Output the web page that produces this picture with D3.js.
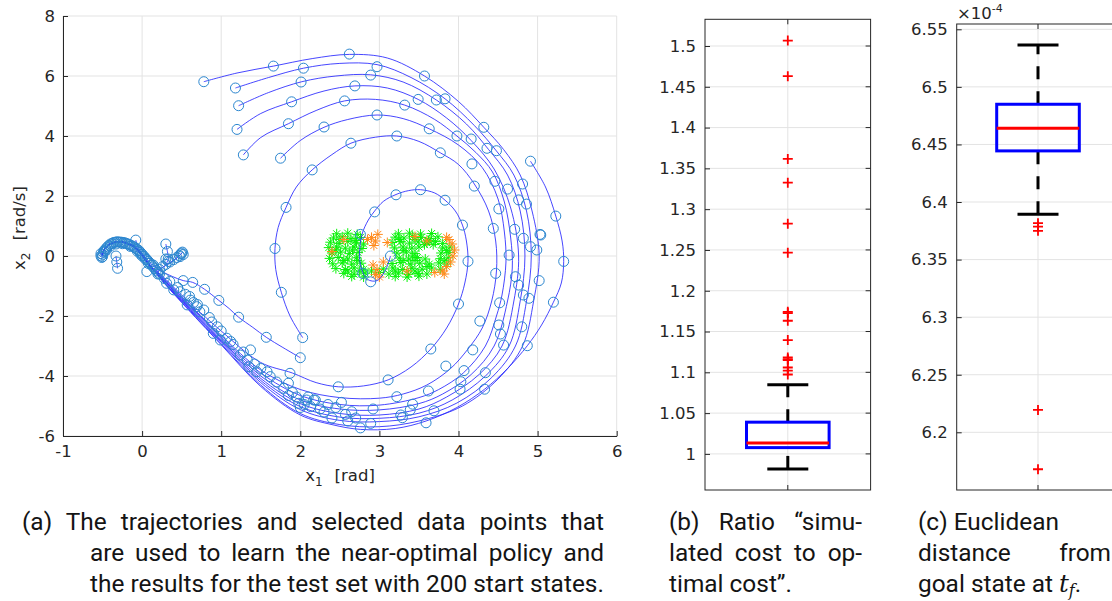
<!DOCTYPE html>
<html>
<head>
<meta charset="utf-8">
<script src="https://cdn.jsdelivr.net/npm/d3@7"></script>
<style>
  body { margin: 0; background: #fff; }
  svg { display: block; }
  .tick text, .lbl { font-family: "DejaVu Sans", sans-serif; font-size: 16.5px; fill: #262626; }
  .cap { font-family: Roboto, sans-serif; font-size: 25px; fill: #141414; }
</style>
</head>
<body>
<svg id="fig" width="1112" height="601"></svg>
<script>
// ---------- phase-plane trajectories (x1 = angle [rad], x2 = angular velocity [rad/s]) ----------
const trajA = [[0.78,5.81],[1.2,6.1],[1.66,6.33],[2.15,6.58],[2.62,6.72],[3.1,6.6],[3.57,6.0],[4.0,5.15],[4.32,4.29],[4.57,3.55],[4.78,2.7],[4.93,1.5],[5.02,0],[4.95,-1.5],[4.81,-3],[4.5,-4.1],[4.05,-5.0],[3.5,-5.5],[3.0,-5.69],[2.5,-5.62],[2.0,-5.25],[1.5,-4.3],[1.0,-2.93],[0.5,-1.53],[0.25,-0.8],[0.14,-0.45],[0.05,-0.14],[-0.04,0.15],[-0.14,0.36],[-0.27,0.46],[-0.39,0.42],[-0.47,0.25],[-0.51,0.02]];
const trajB = [[1.18,5.6],[1.6,5.95],[2.04,6.26],[2.5,6.42],[2.97,6.38],[3.4,5.95],[3.83,5.24],[4.2,4.35],[4.48,3.5],[4.7,2.7],[4.86,1.5],[4.92,0],[4.86,-1.5],[4.72,-3],[4.42,-4.05],[3.98,-4.9],[3.5,-5.36],[3.0,-5.52],[2.5,-5.48],[2.0,-5.12],[1.5,-4.22],[1.0,-2.88],[0.5,-1.5],[0.25,-0.78],[0.2,-0.55],[0.26,-0.38],[0.38,-0.18],[0.47,0.0],[0.51,0.12]];
const trajC = [[1.22,5.01],[1.6,5.45],[2.02,5.81],[2.45,6.0],[2.89,6.04],[3.3,5.8],[3.72,5.2],[4.1,4.4],[4.38,3.55],[4.62,2.7],[4.78,1.5],[4.84,0],[4.78,-1.5],[4.64,-3],[4.34,-4.0],[3.92,-4.8],[3.5,-5.24],[3.0,-5.41],[2.5,-5.37],[2.0,-5.02],[1.5,-4.15],[1.0,-2.84],[0.5,-1.48],[0.25,-0.76],[0.13,-0.44],[0.04,-0.12],[-0.05,0.17],[-0.15,0.37],[-0.28,0.47],[-0.4,0.41],[-0.48,0.22],[-0.5,-0.02]];
const trajD = [[1.20,4.22],[1.5,4.75],[1.89,5.14],[2.3,5.5],[2.69,5.67],[3.1,5.6],[3.49,5.22],[3.85,4.6],[4.16,3.85],[4.45,2.9],[4.66,1.6],[4.76,0],[4.7,-1.5],[4.55,-3],[4.26,-3.95],[3.85,-4.7],[3.5,-5.1],[3.0,-5.3],[2.5,-5.25],[2.0,-4.92],[1.5,-4.08],[1.0,-2.8],[0.5,-1.45],[0.25,-0.74],[0.12,-0.43],[0.03,-0.1],[-0.06,0.18],[-0.16,0.38],[-0.29,0.46],[-0.41,0.39],[-0.48,0.2],[-0.52,0.0]];
const trajE = [[1.28,3.37],[1.5,3.95],[1.85,4.41],[2.2,4.85],[2.56,5.17],[2.95,5.22],[3.32,5.03],[3.7,4.55],[3.98,4.0],[4.22,3.45],[4.43,2.8],[4.58,1.8],[4.66,0.6],[4.68,-0.4],[4.62,-1.5],[4.45,-3],[4.16,-3.95],[3.8,-4.6],[3.5,-4.92],[3.0,-5.13],[2.5,-5.1],[2.0,-4.8],[1.5,-4.0],[1.0,-2.75],[0.5,-1.42],[0.25,-0.72],[0.13,-0.4],[0.05,-0.1],[-0.04,0.2],[-0.13,0.38],[-0.26,0.48],[-0.38,0.44],[-0.46,0.28],[-0.5,0.05]];
const trajF = [[1.75,3.26],[2.0,3.85],[2.30,4.29],[2.6,4.55],[2.97,4.70],[3.3,4.58],[3.63,4.24],[4.0,3.7],[4.3,2.95],[4.5,1.9],[4.58,0.8],[4.6,-0.2],[4.55,-1.3],[4.48,-2.0],[4.34,-3],[4.06,-3.9],[3.75,-4.45],[3.5,-4.72],[3.0,-4.97],[2.5,-4.95],[2.0,-4.65],[1.5,-3.9],[1.0,-2.7],[0.5,-1.38],[0.25,-0.7],[0.19,-0.52],[0.27,-0.36],[0.37,-0.2],[0.45,-0.03],[0.5,0.09]];
const trajG = [[2.03,-2.72],[1.87,-2.0],[1.76,-1.21],[1.69,-0.45],[1.68,0.25],[1.72,0.95],[1.82,1.62],[1.95,2.3],[2.15,2.87],[2.4,3.38],[2.64,3.76],[2.95,3.96],[3.22,4.0],[3.5,3.82],[3.77,3.44],[4.0,3.05],[4.2,2.4],[4.38,1.5],[4.47,0.5],[4.48,-0.5],[4.42,-1.5],[4.3,-2.4],[4.12,-3.1],[3.9,-3.75],[3.6,-4.3],[3.3,-4.6],[3.0,-4.74],[2.5,-4.72],[2.0,-4.45],[1.5,-3.8],[1.0,-2.65],[0.5,-1.35],[0.25,-0.68],[0.11,-0.38],[0.02,-0.08],[-0.07,0.2],[-0.17,0.39],[-0.3,0.47],[-0.42,0.38],[-0.49,0.18],[-0.51,-0.04]];
const trajH = [[4.91,3.16],[5.1,2.3],[5.23,1.33],[5.31,0.5],[5.33,-0.18],[5.3,-0.9],[5.2,-1.54],[5.05,-2.3],[4.87,-2.99],[4.62,-3.75],[4.33,-4.44],[3.98,-5.05],[3.59,-5.5],[3.2,-5.75],[2.76,-5.78],[2.4,-5.62],[2.0,-5.3],[1.5,-4.35],[1.0,-2.96],[0.5,-1.55],[0.25,-0.82],[0.14,-0.46],[0.05,-0.14],[-0.03,0.14],[-0.13,0.35],[-0.26,0.46],[-0.38,0.43],[-0.47,0.26],[-0.52,0.04]];
const trajI = [[3.14,0.0],[3.08,-0.45],[2.97,-0.82],[2.85,-0.78],[2.77,-0.4],[2.75,0.1],[2.78,0.72],[2.86,1.2],[2.94,1.5],[3.05,1.82],[3.21,2.05],[3.37,2.18],[3.52,2.21],[3.7,2.1],[3.83,1.86],[3.96,1.5],[4.05,1.03],[4.1,0.5],[4.12,-0.18],[4.08,-0.9],[4.0,-1.6],[3.85,-2.4],[3.65,-3.1],[3.4,-3.7],[3.11,-4.13],[2.8,-4.33],[2.48,-4.36],[2.2,-4.22],[1.9,-3.9],[1.5,-3.55],[1.0,-2.5],[0.5,-1.3],[0.25,-0.65],[0.12,-0.36],[0.03,-0.06],[-0.06,0.22],[-0.16,0.4],[-0.29,0.48],[-0.41,0.4],[-0.48,0.22],[-0.5,0.0]];
const trajJ = [[2.0,-3.39],[1.78,-3.05],[1.57,-2.71],[1.4,-2.38],[1.22,-2.04],[1.1,-1.75],[0.97,-1.48],[0.79,-1.11],[0.64,-0.88],[0.52,-0.82],[0.38,-0.68],[0.24,-0.5],[0.13,-0.3],[0.04,-0.04],[-0.05,0.22],[-0.15,0.4],[-0.28,0.48],[-0.4,0.42],[-0.47,0.24],[-0.5,0.02]];
const trajK = [[0.30,0.4],[0.32,0.15],[0.33,-0.1],[0.3,-0.28]];
const trajL = [[-0.31,-0.41],[-0.32,-0.2],[-0.33,0.0]];
const trajM = [[-0.08,0.53],[-0.05,0.3],[0.0,0.05]];
const trajectories = [trajA, trajB, trajC, trajD, trajE, trajF, trajG, trajH, trajI, trajJ, trajK, trajL, trajM];

// sampled states along the trajectories (circle markers)
const sampleStates = [
  [0.78,5.81],[1.66,6.33],[2.04,6.26],[1.18,5.6],[2.01,5.8],[1.22,5.01],[1.89,5.14],[1.20,4.22],[1.85,4.41],[1.28,3.37],[2.30,4.30],[1.75,3.26],[2.15,2.87],[1.82,1.62],[1.68,0.25],[1.76,-1.21],[2.03,-2.72],
  [2.62,6.73],[2.97,6.31],[2.89,6.03],[3.57,6.0],[2.69,5.67],[2.56,5.17],[3.32,5.03],[3.49,5.22],[3.72,5.2],[3.83,5.24],[2.97,4.70],[3.63,4.24],[2.64,3.76],[3.22,4.0],[3.77,3.44],[3.98,4.0],[4.16,3.9],[4.32,4.29],[4.36,3.59],[4.48,3.51],[4.17,3.07],
  [4.91,3.16],[4.20,2.33],[4.46,2.49],[4.62,2.23],[4.81,2.4],[4.76,1.87],[4.86,1.73],[4.51,1.57],[4.44,0.92],[4.71,0.89],[4.82,0.59],[5.03,0.72],[5.23,1.33],[4.91,0.31],[4.99,0.2],[4.64,0.03],[5.04,0.7],[5.33,-0.18],
  [4.47,-0.58],[4.72,-0.69],[4.76,-0.97],[4.82,-1.3],[4.89,-1.41],[5.02,-0.82],[5.20,-1.54],[4.52,-1.56],[4.27,-2.17],[4.51,-2.3],[4.80,-2.36],[4.53,-2.6],[4.57,-2.97],[4.87,-2.99],[4.18,-3.13],
  [3.14,0.0],[2.89,-0.86],[2.79,-0.58],[2.76,0.72],[2.94,1.47],[3.21,2.04],[3.52,2.21],[3.83,1.86],[4.05,1.03],[4.12,-0.18],[4.0,-1.6],[3.65,-3.1],[3.11,-4.13],[2.48,-4.36],
  [3.84,-3.67],[4.07,-3.82],[4.34,-3.89],[4.03,-4.19],[4.02,-4.44],[4.33,-4.44],[3.62,-4.5],[3.22,-4.69],[3.42,-4.94],[3.39,-5.13],[3.69,-5.16],[3.27,-5.3],[3.29,-5.39],[3.59,-5.56],[2.92,-5.1],[2.89,-5.58],[2.76,-5.73],[2.52,-4.88],[2.65,-5.19],[2.57,-5.28],[2.08,-4.8],[2.17,-4.8],
  [2.0,-3.39],[1.57,-2.71],[1.22,-2.04],[0.97,-1.48],[0.79,-1.11],[0.64,-0.88],[0.52,-0.82],
  [1.87,-3.91],[1.85,-4.24],[1.79,-4.41],[1.98,-4.91],[2.13,-5.02],[2.19,-4.8],[1.37,-3.13],[1.35,-3.69],[1.45,-3.86],[1.58,-3.86],[1.24,-3.3],[1.33,-3.47],[1.07,-2.74],[0.99,-2.8],[0.95,-2.36],[0.90,-2.58],[0.73,-1.86],[0.69,-1.69],[0.61,-1.47],[0.57,-1.63],[0.48,-1.19],[0.40,-1.13],[0.31,-0.91],[0.06,-0.52],
  [0.2,-0.6],[0.28,-0.75],[0.35,-0.85],[0.45,-1.05],[0.55,-1.28],[0.6,-1.35],[0.65,-1.55],[0.7,-1.62],[0.78,-1.8],[0.85,-2.05],[0.88,-2.2],[1.0,-2.5],[1.12,-2.85],[1.15,-2.95],[1.28,-3.2],[1.42,-3.6],[1.5,-3.75],[1.62,-4.02],[1.7,-4.2],[1.9,-4.55],[1.95,-4.7],[2.05,-4.95],[2.1,-4.7],[2.25,-5.1],[2.3,-5.2],[2.35,-4.95],[2.4,-5.4],[2.45,-5.05],[2.6,-5.5],[2.7,-5.4],[2.0,-5.05],[1.85,-4.65],
  [0.30,0.4],[-0.08,0.53],[-0.31,-0.41],[-0.32,-0.2],[-0.33,0.0],[0.32,0.15],[0.33,-0.1],
  [-0.52,0.0],[-0.51,-0.05],[-0.5,0.05],[-0.52,0.08],[-0.49,0.12],[-0.5,-0.02],[-0.48,0.18],[-0.46,0.24],[-0.47,0.15],[-0.44,0.3],[-0.42,0.35],[-0.4,0.4],[-0.38,0.42],[-0.36,0.45],[-0.34,0.46],[-0.32,0.47],[-0.3,0.47],[-0.28,0.46],[-0.26,0.46],[-0.24,0.45],[-0.22,0.44],[-0.2,0.42],[-0.18,0.4],[-0.16,0.38],[-0.14,0.35],[-0.12,0.33],[-0.1,0.3],[-0.08,0.26],[-0.06,0.22],[-0.04,0.18],[-0.02,0.12],[0.0,0.06],[0.02,0.0],[0.04,-0.06],[0.06,-0.12],[0.08,-0.18],[0.1,-0.24],[0.12,-0.3],[0.14,-0.36],[0.16,-0.42],[0.18,-0.48],[0.2,-0.54],[0.22,-0.6],
  [-0.45,0.2],[-0.4,0.33],[-0.33,0.4],[-0.25,0.41],[-0.15,0.32],[-0.06,0.16],[0.04,-0.1],[0.0,0.0],[-0.02,0.06],[0.08,-0.25],[0.14,-0.3],
  [0.22,-0.45],[0.26,-0.35],[0.3,-0.28],[0.35,-0.2],[0.4,-0.12],[0.44,-0.05],[0.47,0.02],[0.49,0.07],[0.5,0.1],[0.51,0.13],[0.52,0.05],[0.48,-0.02],[0.3,-0.1],[0.33,-0.18]
];

// test-set start states
const startsReached = [
  [2.46,0.74],[2.6,0.76],[2.72,0.72],[3.24,0.74],[3.38,0.76],[3.52,0.73],[3.66,0.75],
  [2.42,0.6],[2.53,0.64],[2.64,0.58],[2.76,0.62],[3.2,0.63],[3.31,0.6],[3.42,0.66],[3.53,0.62],[3.64,0.58],[3.74,0.64],
  [2.38,0.46],[2.49,0.42],[2.6,0.48],[2.71,0.44],[2.8,0.4],[3.16,0.45],[3.27,0.48],[3.38,0.43],[3.49,0.47],[3.6,0.44],[3.71,0.48],[3.8,0.42],
  [2.36,0.28],[2.46,0.3],[2.57,0.26],[2.68,0.3],[2.78,0.25],[3.19,0.27],[3.3,0.3],[3.41,0.26],[3.5,0.3],[3.8,0.27],[3.89,0.3],
  [2.4,0.1],[2.51,0.13],[2.62,0.08],[2.73,0.12],[3.22,0.1],[3.34,0.13],[3.45,0.08],[3.78,0.1],[3.88,0.12],
  [2.37,-0.08],[2.48,-0.05],[2.6,-0.1],[2.71,-0.06],[3.25,-0.07],[3.37,-0.1],[3.48,-0.05],[3.58,-0.1],[3.77,-0.09],[3.87,-0.06],
  [2.41,-0.26],[2.53,-0.23],[2.65,-0.27],[2.77,-0.24],[3.16,-0.25],[3.27,-0.22],[3.39,-0.27],[3.51,-0.24],[3.63,-0.27],[3.75,-0.23],[3.85,-0.27],
  [2.45,-0.42],[2.57,-0.45],[2.68,-0.4],[2.8,-0.44],[3.05,-0.43],[3.17,-0.4],[3.29,-0.45],[3.41,-0.41],[3.54,-0.44],[3.66,-0.4],[3.77,-0.44],
  [2.55,-0.58],[2.68,-0.61],[2.82,-0.57],[3.12,-0.6],[3.24,-0.57],[3.37,-0.61],[3.49,-0.58],[3.6,-0.6],
  [2.65,-0.68],[2.8,-0.7],[3.2,-0.68],[3.35,-0.7],[3.5,-0.67],
  [2.5,0.55],[2.7,0.52],[3.25,0.55],[3.45,0.55],[3.62,0.52],[2.45,0.2],[2.66,0.2],[2.55,-0.15],[2.72,-0.15],[3.3,0.18],[3.42,0.0],[3.3,-0.15],[3.45,-0.15],[3.6,-0.35],[3.2,-0.5],[3.45,-0.5],[2.6,-0.5],[2.75,-0.5],[3.68,0.38],[3.57,0.38],[3.85,0.18],[3.82,-0.16],[2.9,-0.5],[3.0,-0.55]
];
const startsMissed = [
  [3.88,0.55],[3.92,0.4],[3.95,0.2],[3.93,0.0],[3.9,-0.2],[3.85,-0.35],[3.8,-0.5],[3.7,-0.55],[2.9,0.62],[2.95,0.5],[2.93,0.35],[2.98,0.72],[2.85,0.55],[2.92,-0.3],[2.97,-0.45],[2.95,-0.62],[3.05,-0.2],[2.4,0.15],[2.55,0.55],[3.45,0.65],[3.35,-0.5],[3.1,0.45],[3.85,0.62],[3.6,0.5],[3.0,-0.7],[3.82,-0.6]
];

const xTicksA = [-1,0,1,2,3,4,5,6];
const yTicksA = [-6,-4,-2,0,2,4,6,8];

// ---------- box plot statistics ----------
// [lower whisker, Q1, median, Q3, upper whisker]
const ratioStats = [0.9816, 1.0077, 1.0135, 1.0389, 1.0847];
const ratioOutliers = [1.5067,1.463,1.3616,1.3325,1.2822,1.2466,1.1742,1.1726,1.1632,1.1395,1.1182,1.1162,1.115,1.1059,1.1022,1.0973];
const ratioTicks = [1,1.05,1.1,1.15,1.2,1.25,1.3,1.35,1.4,1.45,1.5];
const ratioTickLabels = ["1","1.05","1.1","1.15","1.2","1.25","1.3","1.35","1.4","1.45","1.5"];

// Euclidean distance, in units of 1e-4
const distStats = [6.3893, 6.4444, 6.4641, 6.4849, 6.5364];
const distOutliers = [6.3816,6.3787,6.375,6.2194,6.1679];
const distTicks = [6.2,6.25,6.3,6.35,6.4,6.45,6.5,6.55];
const distTickLabels = ["6.2","6.25","6.3","6.35","6.4","6.45","6.5","6.55"];

// ---------- captions ----------
const captionA = ["(a) The trajectories and selected data points that","are used to learn the near-optimal policy and","the results for the test set with 200 start states."];
const captionB = ["(b) Ratio \u201Csimu-","lated cost to op-","timal cost\u201D."];
const captionC = ["(c) Euclidean","distance from"];

const svg = d3.select("#fig");
const gridColor = "#e3e3e3";
const axisColor = "#262626";

// ================= panel (a) =================
const xA = d3.scaleLinear().domain([-1, 6]).range([63, 616.7]);
const yA = d3.scaleLinear().domain([-6, 8]).range([436, 16]);
const pa = svg.append("g");

pa.selectAll("line.gx").data(xTicksA).join("line")
  .attr("x1", d => xA(d)).attr("x2", d => xA(d))
  .attr("y1", yA(-6)).attr("y2", yA(8))
  .attr("stroke", gridColor).attr("stroke-width", 1);
pa.selectAll("line.gy").data(yTicksA).join("line")
  .attr("x1", xA(-1)).attr("x2", xA(6))
  .attr("y1", d => yA(d)).attr("y2", d => yA(d))
  .attr("stroke", gridColor).attr("stroke-width", 1);

// test start states (asterisks)
const asterisk = "M-5,0H5M0,-5V5M-3.5,-3.5L3.5,3.5M-3.5,3.5L3.5,-3.5";
pa.selectAll("path.ok").data(startsReached).join("path")
  .attr("d", asterisk)
  .attr("transform", d => `translate(${xA(d[0])},${yA(d[1])})`)
  .attr("stroke", "#0af20a").attr("stroke-width", 1).attr("fill", "none");
pa.selectAll("path.miss").data(startsMissed).join("path")
  .attr("d", asterisk)
  .attr("transform", d => `translate(${xA(d[0])},${yA(d[1])})`)
  .attr("stroke", "#ff8a1c").attr("stroke-width", 1).attr("fill", "none");

// trajectories
const trajLine = d3.line()
  .x(d => xA(d[0])).y(d => yA(d[1]))
  .curve(d3.curveCatmullRom.alpha(0.5));
pa.selectAll("path.traj").data(trajectories).join("path")
  .attr("d", trajLine)
  .attr("fill", "none").attr("stroke", "#2626ff").attr("stroke-width", 0.85);

// sampled states
pa.selectAll("circle.s").data(sampleStates).join("circle")
  .attr("cx", d => xA(d[0])).attr("cy", d => yA(d[1])).attr("r", 5)
  .attr("fill", "none").attr("stroke", "#2b86cf").attr("stroke-width", 1);

// axes
const axA_x = pa.append("g").attr("transform", `translate(0,${yA(-6)})`)
  .call(d3.axisBottom(xA).tickValues(xTicksA).tickFormat(d => String(d))
    .tickSizeInner(-5).tickSizeOuter(0).tickPadding(9));
const axA_y = pa.append("g").attr("transform", `translate(${xA(-1)},0)`)
  .call(d3.axisLeft(yA).tickValues(yTicksA).tickFormat(d => String(d))
    .tickSizeInner(-5).tickSizeOuter(0).tickPadding(8));
[axA_x, axA_y].forEach(g => {
  g.select(".domain").attr("stroke", axisColor);
  g.selectAll(".tick line").attr("stroke", axisColor);
  g.selectAll(".tick text").attr("fill", axisColor);
});

// axis labels
const xl = pa.append("text").attr("class", "lbl").attr("x", 340).attr("y", 481).attr("text-anchor", "middle");
xl.append("tspan").text("x");
xl.append("tspan").attr("font-size", "12px").attr("dy", 5).text("1");
xl.append("tspan").attr("dy", -5).attr("dx", 12).text("[rad]");
const yl = pa.append("text").attr("class", "lbl").attr("transform", "translate(25,228) rotate(-90)").attr("text-anchor", "middle");
yl.append("tspan").text("x");
yl.append("tspan").attr("font-size", "12px").attr("dy", 5).text("2");
yl.append("tspan").attr("dy", -5).attr("dx", 12).text("[rad/s]");

// ================= box plots =================
function boxPanel(opts) {
  const { x0, x1, yTop, yBot, scale, ticks, labels, stats, outliers } = opts;
  const g = svg.append("g");
  const xc = (x0 + x1) / 2;
  const bw = 41.3, cw = 20.5;
  // grid
  g.selectAll("line.gy").data(ticks).join("line")
    .attr("x1", x0).attr("x2", x1)
    .attr("y1", d => scale(d)).attr("y2", d => scale(d))
    .attr("stroke", gridColor);
  g.append("line").attr("x1", xc).attr("x2", xc).attr("y1", yTop).attr("y2", yBot).attr("stroke", gridColor);
  // frame
  g.append("rect").attr("x", x0).attr("y", yTop).attr("width", x1 - x0).attr("height", yBot - yTop)
    .attr("fill", "none").attr("stroke", axisColor).attr("stroke-width", 1);
  // y axis
  const ax = g.append("g").attr("transform", `translate(${x0},0)`)
    .call(d3.axisLeft(scale).tickValues(ticks).tickFormat((d, i) => labels[i])
      .tickSizeInner(-5).tickSizeOuter(0).tickPadding(9));
  ax.select(".domain").remove();
  ax.selectAll(".tick line").attr("stroke", axisColor);
  ax.selectAll(".tick text").attr("fill", axisColor);
  // right-side ticks
  g.selectAll("line.rt").data(ticks).join("line")
    .attr("x1", x1).attr("x2", x1 - 5)
    .attr("y1", d => scale(d)).attr("y2", d => scale(d)).attr("stroke", axisColor);
  // centre ticks on top and bottom edge
  g.append("line").attr("x1", xc).attr("x2", xc).attr("y1", yTop).attr("y2", yTop + 5).attr("stroke", axisColor);
  g.append("line").attr("x1", xc).attr("x2", xc).attr("y1", yBot).attr("y2", yBot - 5).attr("stroke", axisColor);

  const [lo, q1, med, q3, hi] = stats;
  // whiskers
  g.append("line").attr("x1", xc).attr("x2", xc).attr("y1", scale(lo)).attr("y2", scale(q1))
    .attr("stroke", "#000").attr("stroke-width", 3).attr("stroke-dasharray", "13,12");
  g.append("line").attr("x1", xc).attr("x2", xc).attr("y1", scale(q3)).attr("y2", scale(hi))
    .attr("stroke", "#000").attr("stroke-width", 3).attr("stroke-dasharray", "13,12");
  g.selectAll("line.cap").data([lo, hi]).join("line")
    .attr("x1", xc - cw).attr("x2", xc + cw)
    .attr("y1", d => scale(d)).attr("y2", d => scale(d))
    .attr("stroke", "#000").attr("stroke-width", 3);
  // box and median
  g.append("rect").attr("x", xc - bw).attr("y", scale(q3)).attr("width", 2 * bw).attr("height", scale(q1) - scale(q3))
    .attr("fill", "none").attr("stroke", "#0000ff").attr("stroke-width", 3);
  g.append("line").attr("x1", xc - bw).attr("x2", xc + bw).attr("y1", scale(med)).attr("y2", scale(med))
    .attr("stroke", "#ff0000").attr("stroke-width", 3);
  // outliers
  g.selectAll("path.out").data(outliers).join("path")
    .attr("d", "M-5,0H5M0,-5V5")
    .attr("transform", d => `translate(${xc},${scale(d)})`)
    .attr("stroke", "#ff0000").attr("stroke-width", 1.8).attr("fill", "none");
  return g;
}

const yB = d3.scaleLinear().domain([1, 1.5]).range([453.9, 46]);
boxPanel({ x0: 705, x1: 870.6, yTop: 19.3, yBot: 490, scale: yB, ticks: ratioTicks, labels: ratioTickLabels,
  stats: ratioStats, outliers: ratioOutliers });

const yC = d3.scaleLinear().domain([6.2, 6.55]).range([432.3, 29.3]);
boxPanel({ x0: 956.7, x1: 1119.3, yTop: 24, yBot: 490, scale: yC, ticks: distTicks, labels: distTickLabels,
  stats: distStats, outliers: distOutliers });

// exponent label
const ex = svg.append("text").attr("class", "lbl").attr("x", 957).attr("y", 19).attr("font-size", "15px");
ex.append("tspan").text("\u00D710");
ex.append("tspan").attr("dy", -7).attr("font-size", "11px").text("-4");

// ================= captions =================
// size the caption font so the last (unjustified) line of (a) spans its column
const probe = svg.append("text").attr("class", "cap").text(captionA[2]);
const capSize = 25 * (604 - 90) / probe.node().getComputedTextLength();
probe.remove();

function justify(sel, width) {
  const len = sel.node().getComputedTextLength();
  const spaces = (sel.text().match(/ /g) || []).length;
  if (spaces > 0) sel.attr("word-spacing", (width - len) / spaces);
}
function capText(x, y, t) {
  return svg.append("text").attr("class", "cap").style("font-size", capSize + "px").attr("x", x).attr("y", y).text(t);
}
const capBase = [530, 561, 592];
captionA.forEach((t, i) => {
  const x = i === 0 ? 22 : 90;
  const s = capText(x, capBase[i], t);
  if (i < 2) justify(s, 604 - x);
});
captionB.forEach((t, i) => {
  const s = capText(669, capBase[i], t);
  if (i < 2) justify(s, 862 - 669);
});
captionC.forEach((t, i) => {
  const s = capText(918, capBase[i], t);
  if (i === 1) justify(s, 1111 - 918);
});
const c3 = svg.append("text").attr("class", "cap").style("font-size", capSize + "px").attr("x", 918).attr("y", capBase[2]);
c3.append("tspan").text("goal state at ");
c3.append("tspan").attr("font-family", "'DejaVu Serif', serif").attr("font-style", "italic").text("t");
c3.append("tspan").attr("font-family", "'DejaVu Serif', serif").attr("font-style", "italic").attr("font-size", "16px").attr("dy", 4).text("f");
c3.append("tspan").attr("dy", -4).text(".");
</script>
</body>
</html>
